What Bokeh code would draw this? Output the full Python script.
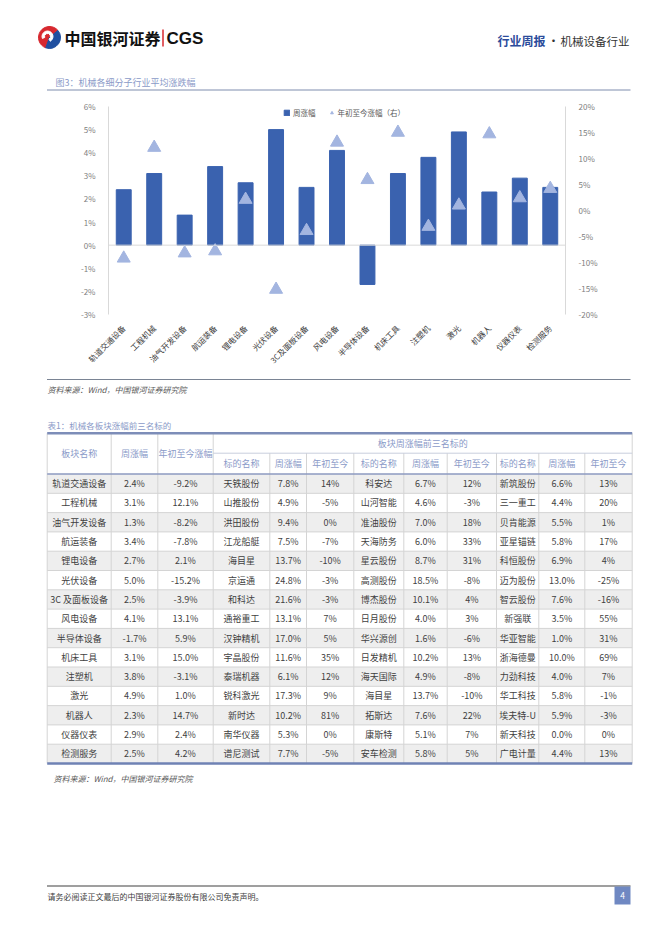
import math
from bokeh.plotting import figure
from bokeh.models import (Range1d, LinearAxis, FixedTicker, PrintfTickFormatter, Span,
                          Legend, LegendItem)
from bokeh.core.properties import value
from bokeh.embed import file_html
from bokeh.resources import INLINE

FONT = "Noto Sans CJK SC"

# ---------------- data ----------------
sectors = ["轨道交通设备", "工程机械", "油气开发设备", "航运装备", "锂电设备", "光伏设备",
           "3C及面板设备", "风电设备", "半导体设备", "机床工具", "注塑机", "激光",
           "机器人", "仪器仪表", "检测服务"]
week_chg = [2.4, 3.1, 1.3, 3.4, 2.7, 5.0, 2.5, 4.1, -1.7, 3.1, 3.8, 4.9, 2.3, 2.9, 2.5]
ytd_chg = [-9.2, 12.1, -8.2, -7.8, 2.1, -15.2, -3.9, 13.1, 5.9, 15.0, -3.1, 1.0, 14.7, 2.4, 4.2]

left_ticks = [-3, -2, -1, 0, 1, 2, 3, 4, 5, 6]
right_ticks = [-20, -15, -10, -5, 0, 5, 10, 15, 20]

top1_name = ["天铁股份", "山推股份", "洪田股份", "江龙船艇", "海目星", "京运通", "和科达",
             "通裕重工", "汉钟精机", "宇晶股份", "泰瑞机器", "锐科激光", "新时达", "南华仪器", "谱尼测试"]
top1_week = [7.8, 4.9, 9.4, 7.5, 13.7, 24.8, 21.6, 13.1, 17.0, 11.6, 6.1, 17.3, 10.2, 5.3, 7.7]
top1_ytd = [14, -5, 0, -7, -10, -3, -3, 7, 5, 35, 12, 9, 81, 0, -5]
top2_name = ["科安达", "山河智能", "准油股份", "天海防务", "星云股份", "高测股份", "博杰股份",
             "日月股份", "华兴源创", "日发精机", "海天国际", "海目星", "拓斯达", "康斯特", "安车检测"]
top2_week = [6.7, 4.6, 7.0, 6.0, 8.7, 18.5, 10.1, 4.0, 1.6, 10.2, 4.9, 13.7, 7.6, 5.1, 5.8]
top2_ytd = [12, -3, 18, 33, 31, -8, 4, 3, -6, 13, -8, -10, 22, 7, 5]
top3_name = ["新筑股份", "三一重工", "贝肯能源", "亚星锚链", "科恒股份", "迈为股份", "智云股份",
             "新强联", "华亚智能", "浙海德曼", "力劲科技", "华工科技", "埃夫特-U", "新天科技", "广电计量"]
top3_week = [6.6, 4.4, 5.5, 5.8, 6.9, 13.0, 7.6, 3.5, 1.0, 10.0, 4.0, 5.8, 5.9, 0.0, 4.4]
top3_ytd = [13, 20, 1, 17, 4, -25, -16, 55, 31, 69, 7, -1, -3, 0, 13]

header_left = ["板块名称", "周涨幅", "年初至今涨幅"]
header_group = "板块周涨幅前三名标的"
header_sub = ["标的名称", "周涨幅", "年初至今"] * 3

BAR = "#3A62AF"
TRI = "#A3B5E0"
HEAD_BLUE = "#8A9AC8"
W = 662


def blank(y0, y1):
    f = figure(width=W, height=int(y1 - y0), x_range=Range1d(0, W), y_range=Range1d(y1, y0),
               output_backend="svg", toolbar_location=None, min_border=0)
    f.axis.visible = False
    f.grid.visible = False
    f.outline_line_color = None
    f.background_fill_color = "white"
    f.border_fill_color = "white"
    return f


def txt(f, x, y, t, size, color, align="left", style="normal", font=FONT):
    f.text(x=x if isinstance(x, list) else [x], y=y if isinstance(y, list) else [y],
           text=t if isinstance(t, list) else [t],
           text_font=value(font), text_font_size=value(size), text_color=color,
           text_align=align, text_baseline="middle", text_font_style=style)


# ---------------- header ----------------
pa = blank(0, 96)
pa.wedge(x=[49], y=[37], radius=11, start_angle=math.radians(40), end_angle=math.radians(250),
         color="#D7282F")
pa.wedge(x=[49], y=[37], radius=11, start_angle=math.radians(250), end_angle=math.radians(400),
         color="#1F4FA0")
pa.annular_wedge(x=[47], y=[36], inner_radius=3, outer_radius=5.5,
                 start_angle=math.radians(-60), end_angle=math.radians(200), color="white")
txt(pa, 64, 37.5, "中国银河证券", "16px", "#111111", style="bold")
pa.segment(x0=[162.5], y0=[29], x1=[162.5], y1=[46], line_color="#D7282F", line_width=1.5)
txt(pa, 166, 38, "CGS", "17px", "#111111", style="bold", font="Liberation Sans")
txt(pa, 497, 40, "行业周报", "12px", "#2B4C9B", style="bold")
txt(pa, 553, 40, "·", "12px", "#333333", align="center")
txt(pa, 560, 40, "机械设备行业", "11.5px", "#333333")
txt(pa, 55, 81.5, "图3：机械各细分子行业平均涨跌幅", "9px", HEAD_BLUE)
pa.segment(x0=[46.5], y0=[89.5], x1=[630], y1=[89.5], line_color="#7F8DAE", line_width=1)

# ---------------- chart ----------------
pb = figure(width=W, height=276, x_range=sectors, y_range=Range1d(-3, 6),
            output_backend="svg", toolbar_location=None,
            min_border_left=108, min_border_right=97, min_border_top=10, min_border_bottom=50)
pb.extra_y_ranges = {"ytd": Range1d(-20, 20)}
pb.outline_line_color = None
pb.grid.visible = False
bars = pb.vbar(x=sectors, top=week_chg, width=0.49, color=BAR)
tris = pb.scatter(x=sectors, y=ytd_chg, y_range_name="ytd", marker="triangle", size=13,
                  color=TRI, line_color=TRI)
pb.add_layout(Span(location=0, dimension="width", line_color="#DADADA", line_width=1,
                   level="overlay"))

ra = LinearAxis(y_range_name="ytd", ticker=FixedTicker(ticks=right_ticks),
                formatter=PrintfTickFormatter(format="%d%%"))
pb.add_layout(ra, "right")
la = pb.yaxis[0]
la.ticker = FixedTicker(ticks=left_ticks)
la.formatter = PrintfTickFormatter(format="%d%%")
for ax in (la, ra):
    ax.axis_line_color = "#D9D9D9"
    ax.major_tick_line_color = None
    ax.minor_tick_line_color = None
    ax.major_label_text_font = FONT
    ax.major_label_text_font_size = "8px"
    ax.major_label_text_color = "#808080"
    ax.major_label_standoff = 7
xa = pb.xaxis[0]
xa.axis_line_color = None
xa.major_tick_line_color = None
xa.major_label_orientation = math.pi / 4
xa.major_label_text_font = FONT
xa.major_label_text_font_size = "8px"
xa.major_label_text_color = "#404040"
xa.major_label_standoff = 6

legend = Legend(items=[LegendItem(label="周涨幅", renderers=[bars]),
                       LegendItem(label="年初至今涨幅（右）", renderers=[tris])],
                orientation="horizontal", location=(175, 196),
                border_line_color=None, background_fill_alpha=0,
                label_text_font=FONT, label_text_font_size="7.5px", label_text_color="#595959",
                glyph_width=7, glyph_height=7, label_height=12, label_standoff=3,
                spacing=12, padding=0, margin=0)
pb.add_layout(legend)

# ---------------- table & footer ----------------
pc = blank(372, 936)
pc.segment(x0=[46.5], y0=[379], x1=[630], y1=[379], line_color="#7A8494", line_width=1)
txt(pc, 47, 388.5, "资料来源：Wind，中国银河证券研究院", "8px", "#595959", style="italic")
txt(pc, 47, 424.5, "表1：机械各板块涨幅前三名标的", "8.5px", HEAD_BLUE)

edges = [46.7, 110.7, 157.3, 212.7, 269.3, 306, 353.3, 403.3, 446.7, 496, 538.3, 584.3, 631.7]
t_top, h_mid, h_bot, row_h = 432.7, 452.7, 473.5, 19.3
n = len(sectors)
t_bot = h_bot + n * row_h
centers = [(edges[i] + edges[i + 1]) / 2 for i in range(len(edges) - 1)]

shade = [i for i in range(n) if i % 2 == 0]
pc.quad(left=edges[0], right=edges[-1], top=[h_bot + i * row_h for i in shade],
        bottom=[h_bot + (i + 1) * row_h for i in shade], fill_color="#EEEEEE", line_color=None)

GRID = "#D4D4D4"
pc.segment(x0=[edges[0]] * (n - 1), x1=[edges[-1]] * (n - 1),
           y0=[h_bot + i * row_h for i in range(1, n)], y1=[h_bot + i * row_h for i in range(1, n)],
           line_color=GRID, line_width=1)
vx_full = [edges[0], edges[1], edges[2], edges[3], edges[-1]]
pc.segment(x0=vx_full, x1=vx_full, y0=[t_top] * len(vx_full), y1=[t_bot] * len(vx_full),
           line_color=GRID, line_width=1)
vx_sub = edges[4:-1]
pc.segment(x0=vx_sub, x1=vx_sub, y0=[h_mid] * len(vx_sub), y1=[t_bot] * len(vx_sub),
           line_color=GRID, line_width=1)
pc.segment(x0=[edges[3]], x1=[edges[-1]], y0=[h_mid], y1=[h_mid], line_color="#C8CEDD", line_width=1)
pc.segment(x0=[edges[0]], x1=[edges[-1]], y0=[h_bot], y1=[h_bot], line_color="#8C9AC0", line_width=1.5)
pc.segment(x0=[edges[0]], x1=[edges[-1]], y0=[t_top], y1=[t_top], line_color="#7D8DB8", line_width=2.5)
pc.segment(x0=[edges[0]], x1=[edges[-1]], y0=[t_bot], y1=[t_bot], line_color="#6F82B4", line_width=2.5)

txt(pc, centers[:3], [(t_top + h_bot) / 2] * 3, header_left, "9px", HEAD_BLUE, align="center")
txt(pc, (edges[3] + edges[-1]) / 2, (t_top + h_mid) / 2 + 0.5, header_group, "9px", HEAD_BLUE,
    align="center")
txt(pc, centers[3:], [(h_mid + h_bot) / 2] * 9, header_sub, "9px", HEAD_BLUE, align="center")

cols = [
    [s.replace("3C", "3C ") for s in sectors],
    [f"{v:.1f}%" for v in week_chg],
    [f"{v:.1f}%" for v in ytd_chg],
    top1_name, [f"{v:.1f}%" for v in top1_week], [f"{v:d}%" for v in top1_ytd],
    top2_name, [f"{v:.1f}%" for v in top2_week], [f"{v:d}%" for v in top2_ytd],
    top3_name, [f"{v:.1f}%" for v in top3_week], [f"{v:d}%" for v in top3_ytd],
]
ys = [h_bot + (i + 0.5) * row_h for i in range(n)]
for ci, col in enumerate(cols):
    txt(pc, [centers[ci]] * n, ys, col, "9px", "#3F3F3F", align="center")

txt(pc, 53, 778, "资料来源：Wind，中国银河证券研究院", "8px", "#595959", style="italic")

pc.segment(x0=[46.5], y0=[885.5], x1=[630], y1=[885.5], line_color="#404040", line_width=1.2)
txt(pc, 47, 895.5, "请务必阅读正文最后的中国银河证券股份有限公司免责声明。", "8px", "#404040")
pc.quad(left=[614], right=[630], top=[886], bottom=[904], fill_color="#6F88C2", line_color=None)
txt(pc, 622, 895, "4", "8.5px", "white", align="center")

open("out.html", "w").write(file_html([pa, pb, pc], INLINE))
